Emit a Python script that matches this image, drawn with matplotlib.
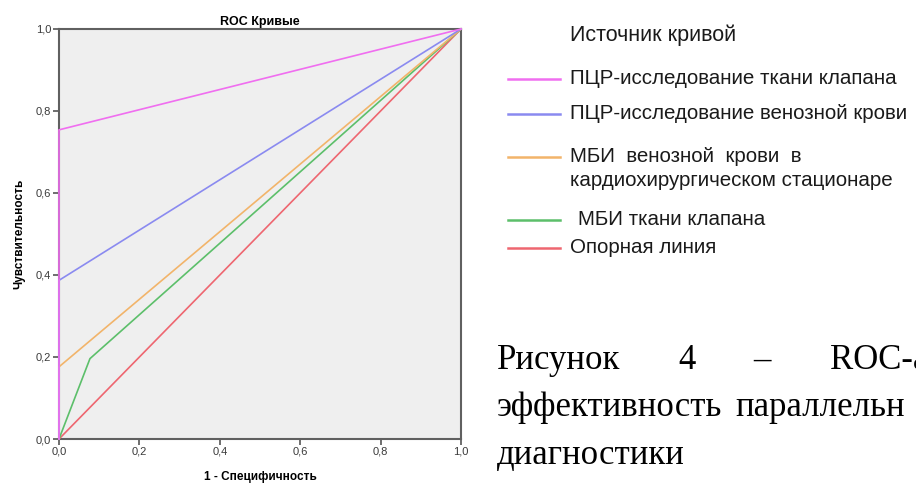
import matplotlib
matplotlib.use("Agg")
import matplotlib.pyplot as plt
from matplotlib.lines import Line2D

# ROC curves (1 - specificity, sensitivity)
pcr_valve_x = [0.0, 0.0, 1.0]
pcr_valve_y = [0.0, 0.754, 1.0]
pcr_blood_x = [0.0, 0.0, 1.0]
pcr_blood_y = [0.0, 0.387, 1.0]
mbi_blood_x = [0.0, 0.0, 1.0]
mbi_blood_y = [0.0, 0.176, 1.0]
mbi_valve_x = [0.0, 0.077, 1.0]
mbi_valve_y = [0.0, 0.196, 1.0]
ref_x = [0.0, 1.0]
ref_y = [0.0, 1.0]

tick_values = [0.0, 0.2, 0.4, 0.6, 0.8, 1.0]
tick_labels = ["0,0", "0,2", "0,4", "0,6", "0,8", "1,0"]

legend_title = "Источник кривой"
legend_labels = ["ПЦР-исследование ткани клапана",
                 "ПЦР-исследование венозной крови",
                 "МБИ  венозной  крови  в\nкардиохирургическом стационаре",
                 "МБИ ткани клапана",
                 "Опорная линия"]
colors = ["#f06ef0", "#8a8af0", "#f2b46a", "#5cbf6a", "#ee6670"]

plt.rcParams["font.family"] = ["Liberation Sans", "DejaVu Sans"]

fig = plt.figure(figsize=(9.16, 4.9), dpi=100)
ax = fig.add_axes([59 / 916, 1 - 439 / 490, 402 / 916, 410 / 490])
ax.set_facecolor("#efefef")

series = [(ref_x, ref_y), (mbi_valve_x, mbi_valve_y), (mbi_blood_x, mbi_blood_y),
          (pcr_blood_x, pcr_blood_y), (pcr_valve_x, pcr_valve_y)]
for (xs, ys), c in zip(series, colors[::-1]):
    ax.plot(xs, ys, color=c, lw=1.2, clip_on=False, zorder=3)

ax.set_xlim(0, 1)
ax.set_ylim(0, 1)
ax.set_xticks(tick_values, tick_labels)
ax.set_yticks(tick_values, tick_labels)
ax.tick_params(length=4.5, width=1.2, color="#555555", labelsize=8, labelcolor="#3a3a3a", pad=1)
for s in ax.spines.values():
    s.set_color("#606060")
    s.set_linewidth(1.5)

ax.set_title("ROC Кривые", fontsize=9, fontweight="bold", pad=3)
ax.set_xlabel("1 - Специфичность", fontsize=8.5, fontweight="bold", labelpad=10)
ax.set_ylabel("Чувствительность", fontsize=8.5, fontweight="bold", labelpad=8)

# legend drawn beside the axes
fig.text(570 / 916, 1 - 35 / 490, legend_title, fontsize=15.5, va="center", ha="left",
         color="#1a1a1a")
rows = [79, 114, 157, 220, 248]
text_x = [570, 570, 570, 578, 570]
for y, tx, lab, c in zip(rows, text_x, legend_labels, colors):
    fig.add_artist(Line2D([508 / 916, 560 / 916], [1 - y / 490, 1 - y / 490],
                          color=c, lw=1.8, transform=fig.transFigure))
    fig.text(tx / 916, 1 - (y - 10) / 490, lab, fontsize=14.8, va="top",
             ha="left", color="#1a1a1a", linespacing=1.35)

# caption fragment (cut off at the right edge)
serif = ["Liberation Serif", "DejaVu Serif"]
cap = [("Рисунок", 497, 369), ("4", 678, 369), ("–", 753, 369), ("ROC-а", 830, 369),
       ("эффективность", 497, 416), ("параллельн", 735, 416), ("диагностики", 497, 464)]
for word, x, y in cap:
    fig.text(x / 916, 1 - y / 490, word, fontsize=25, family=serif, va="baseline", ha="left")

fig.savefig("out.png", dpi=100)
